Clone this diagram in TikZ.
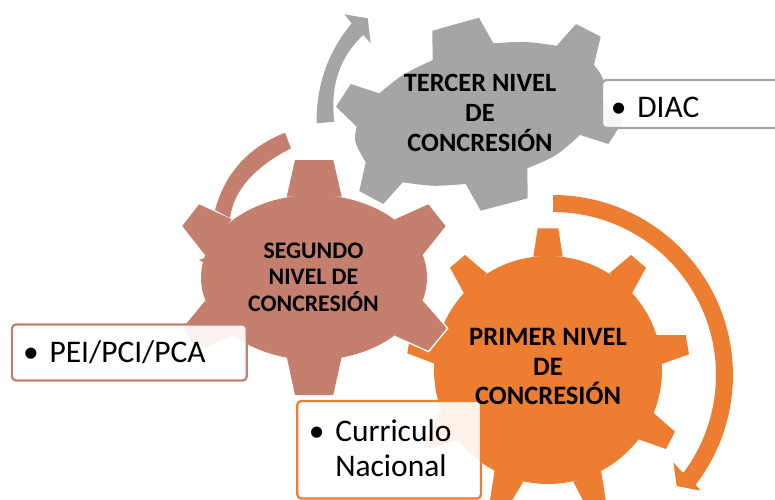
\documentclass[tikz,border=0pt]{standalone}
\usepackage{fontspec}
\setmainfont{Carlito}
\definecolor{cgray}{HTML}{A5A5A5}
\definecolor{corange}{HTML}{ED7D31}
\definecolor{csalmon}{HTML}{C47F6E}
\newcommand{\saltpieces}[1]{%
  \path[#1] (314,277.5) ellipse [x radius=84.75pt,y radius=61.9pt];
  \path[#1] (286.7,196.7)--(295,160)--(333.3,160)--(341.7,196.7)--cycle;
  \path[#1] (395,219.3)--(428.3,204.3)--(445.7,226)--(422.7,255)--cycle;
  \path[#1] (422.7,300.7)--(446.7,328.3)--(428.3,350.7)--(395,335.7)--cycle;
  \path[#1] (341.7,356.7)--(333.3,395)--(295,395)--(286.7,356.7)--cycle;
  \path[#1] (231.7,335.7)--(199,350)--(182.7,328.3)--(205,300.7)--cycle;
  \path[#1] (231.7,219.3)--(199,204.3)--(182.3,226)--(205,255)--cycle;
}
\newlength{\pxu}\setlength{\pxu}{0.75pt}
\newcommand{\bul}{\makebox[26.5\pxu][l]{•}}
\tikzset{
  boxframe/.style={line width=1.7pt,fill=white,fill opacity=.9,draw opacity=1,rounded corners=3pt},
  geartext/.style={font=\bfseries,align=center,text=black,inner sep=0pt},
  listtext/.style={font=\fontsize{23.6}{26}\selectfont,align=left,anchor=base west,inner sep=0pt,text=black}
}
\begin{document}
\begin{tikzpicture}[x=0.75pt,y=-0.75pt]
\useasboundingbox (0,0) rectangle (775,500);
\clip (0,0) rectangle (775,500);
% gray gear
\fill[cgray] (432.3,30.7)--(479,17.7)--(493.3,43.3) .. controls (525,41.2) .. (556.7,45.7)
  --(576,24)--(600.7,36.7)--(594,65) .. controls (605,79.2) .. (602,100)
  --(622.7,121.7)--(608.3,144)--(580,135) .. controls (556.8,156) .. (527.3,168.3)
  --(527.7,198.3)--(480.7,210.7)--(465.7,184) .. controls (433,186.6) .. (402.7,182.3)
  --(383.3,204)--(359.3,191)--(365.7,162.3) .. controls (353.6,141.2) .. (356.7,126.7)
  --(336,106.7)--(350.7,84)--(379.3,93.3) .. controls (402,74.5) .. (432.7,60)--cycle;
% gray arrow
\fill[cgray] (316.7,123.3) .. controls (316.1,85.6) and (327.7,52.2) .. (351.7,23.3)
  --(344.3,14.3)--(367.7,18.3)--(370.7,43.3)--(363.3,35)
  .. controls (339.6,57.1) and (330,86) .. (334.3,121.7)--cycle;
% orange gear
\fill[corange] (548,370) circle [radius=85.5pt];
\fill[corange] (533.3,256.7)--(537.7,228.3)--(558.3,228.3)--(562.7,256.7)--cycle;
\fill[corange] (609.3,273.3)--(631,255)--(646,267.7)--(632,293.3)--cycle;
\fill[corange] (656,335)--(685.7,335)--(689,354.3)--(661.7,364)--cycle;
\fill[corange] (653.3,412.7)--(675,431.7)--(666,449)--(638.3,439.3)--cycle;
\fill[corange] (601,470)--(605.7,500)--(582.7,500)--(573.3,481.7)--cycle;
\fill[corange] (523.3,481.7)--(512.3,500)--(490,500)--(495,468)--cycle;
\fill[corange] (458,440)--(430,448)--(425,440)--(445,403)--cycle;
\fill[corange] (440,335)--(410.3,335)--(407.3,353.3)--(434.3,363.5)--cycle;
\fill[corange] (486.7,273.3)--(465,255)--(450,267.7)--(464,293.3)--cycle;
% orange arrow
\fill[corange] plot[domain=-90:37.6,samples=50] ({553+180*cos(\x)},{375+180*sin(\x)})
  --(700.7,490.7)--(676.7,486)--(673.3,462.3)--(680.7,470.7)
  -- plot[domain=36.8:-90,samples=50] ({553+163*cos(\x)},{375+163*sin(\x)})--cycle;
% salmon gear
\saltpieces{draw=white,line width=2.2pt,fill=white}
\saltpieces{fill=csalmon}
% salmon arrow
\fill[csalmon] (285,132.7) .. controls (248.3,147.3) and (225,173.1) .. (215,210)--(230,218)
  .. controls (233.7,190.5) and (254,167.3) .. (291,148.3)--cycle;
\fill[csalmon] (199,260)--(207,257)--(207,264)--cycle;
% list boxes
\draw[boxframe,draw=cgray] (785,80)--(602,80)--(602,128)--(785,128);
\draw[boxframe,draw=csalmon] (12,324.5) rectangle (246.7,380.5);
\draw[boxframe,draw=corange] (297.3,401) rectangle (481,498.5);
% gear labels
\node[geartext,font=\bfseries\fontsize{19.8}{22.5}\selectfont] (tercer) at (480,113) {TERCER NIVEL\\DE\\CONCRESIÓN};
\node[geartext,font=\bfseries\fontsize{17.8}{20}\selectfont] (segundo) at (313.5,277) {SEGUNDO\\NIVEL DE\\CONCRESIÓN};
\node[geartext,font=\bfseries\fontsize{19.9}{22.2}\selectfont] (primer) at (548,366.5) {PRIMER NIVEL\\DE\\CONCRESIÓN};
% list labels
\node[listtext] (diac) at (610.5,117) {\bul DIAC};
\node[listtext] (pei) at (22.8,362) {\bul PEI/PCI/PCA};
\node[listtext] (curr) at (308.5,476) {\bul Curriculo\\\hspace*{26.5\pxu}Nacional};
\end{tikzpicture}
\end{document}
